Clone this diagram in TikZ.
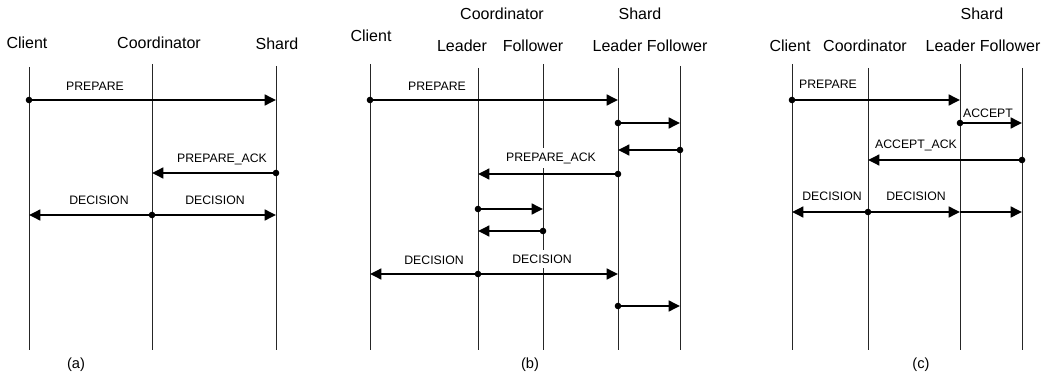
\documentclass[tikz,border=0pt]{standalone}
\usepackage{fontspec}
\setmainfont{Liberation Sans}
\usetikzlibrary{arrows.meta}

\begin{document}
\begin{tikzpicture}[x=0.75pt, y=-0.75pt,
  lifeline/.style={line width=0.7pt, black!85},
  msg/.style={line width=1.8pt, -{Triangle[length=8.5pt,width=8pt]}},
  dotmsg/.style={line width=1.8pt, {Circle[length=4.8pt]}-{Triangle[length=8.5pt,width=8pt]}, shorten <=-2.4pt},
  role/.style={font=\fontsize{12}{14}\selectfont, inner sep=0pt},
  msglabel/.style={font=\fontsize{9.2}{11}\selectfont, inner sep=0pt},
  overline/.style={fill=white, inner ysep=3.5pt},
  caption/.style={font=\fontsize{11}{13}\selectfont, inner sep=0pt}]

\useasboundingbox (0,0) rectangle (1048,378);
\coordinate (bot) at (0,350);

% (a) two-phase commit, plain
\coordinate (aCl) at (29,67);
\coordinate (aCo) at (152,64);
\coordinate (aSh) at (276,66);
\foreach \n in {aCl,aCo,aSh}
    \draw[lifeline] (\n) -- (\n |- bot);

\node[role] (aClT) at (27,43) {Client};
\node[role] (aCoT) at (159,43) {Coordinator};
\node[role] (aShT) at (277,44) {Shard};

\coordinate (aR1) at (0,100);
\coordinate (aR2) at (0,173);
\coordinate (aR3) at (0,215);

\node[msglabel] (aL1) at (95,86) {PREPARE};
\node[msglabel] (aL2) at (222,159) {PREPARE\_ACK};
\node[msglabel] (aL3) at (99,200) {DECISION};
\node[msglabel] (aL4) at (215,200) {DECISION};

\draw[dotmsg] (aCl |- aR1) -- (aSh |- aR1);
\draw[dotmsg] (aSh |- aR2) -- (aCo |- aR2);
\draw[dotmsg] (aCo |- aR3) -- (aCl |- aR3);
\draw[msg] (aCo |- aR3) -- (aSh |- aR3);

\node[caption] (aCap) at (76,365) {(a)};

% (b) replicated coordinator and shard
\coordinate (bCl) at (370,64);
\coordinate (bCL) at (478,68);
\coordinate (bCF) at (543,64);
\coordinate (bSL) at (618,68);
\coordinate (bSF) at (680,66);
\foreach \n in {bCl,bCL,bCF,bSL,bSF}
    \draw[lifeline] (\n) -- (\n |- bot);

\node[role] (bCoT) at (502,14) {Coordinator};
\node[role] (bShT) at (640,14) {Shard};
\node[role] (bClT) at (371,36) {Client};
\node[role] (bCLT) at (462,46) {Leader};
\node[role] (bCFT) at (533,46) {Follower};
\node[role] (bSLT) at (650,46) {Leader Follower};

\coordinate (bR1) at (0,100);
\coordinate (bR2) at (0,123);
\coordinate (bR3) at (0,150);
\coordinate (bR4) at (0,174);
\coordinate (bR5) at (0,209);
\coordinate (bR6) at (0,231);
\coordinate (bR7) at (0,274);
\coordinate (bR8) at (0,306);

\node[msglabel] (bL1) at (437,86) {PREPARE};
\node[msglabel, overline] (bL2) at (551,158) {PREPARE\_ACK};
\node[msglabel] (bL3) at (434,260) {DECISION};
\node[msglabel, overline] (bL4) at (542,259) {DECISION};

\draw[dotmsg] (bCl |- bR1) -- (bSL |- bR1);
\draw[dotmsg] (bSL |- bR2) -- (bSF |- bR2);
\draw[dotmsg] (bSF |- bR3) -- (bSL |- bR3);
\draw[dotmsg] (bSL |- bR4) -- (bCL |- bR4);
\draw[dotmsg] (bCL |- bR5) -- (bCF |- bR5);
\draw[dotmsg] (bCF |- bR6) -- (bCL |- bR6);
\draw[dotmsg] (bCL |- bR7) -- (bCl |- bR7);
\draw[msg] (bCL |- bR7) -- (bSL |- bR7);
\draw[dotmsg] (bSL |- bR8) -- (bSF |- bR8);

\node[caption] (bCap) at (530,365) {(b)};

% (c) replicated shard only
\coordinate (cCl) at (792,64);
\coordinate (cCo) at (868,68);
\coordinate (cSL) at (960,64);
\coordinate (cSF) at (1022,68);
\foreach \n in {cCl,cCo,cSL,cSF}
    \draw[lifeline] (\n) -- (\n |- bot);

\node[role] (cShT) at (982,14) {Shard};
\node[role] (cClT) at (790,46) {Client};
\node[role] (cCoT) at (865,46) {Coordinator};
\node[role] (cSLT) at (983,46) {Leader Follower};

\coordinate (cR1) at (0,100);
\coordinate (cR2) at (0,123);
\coordinate (cR3) at (0,160);
\coordinate (cR4) at (0,212);

\node[msglabel] (cL1) at (828,84) {PREPARE};
\node[msglabel] (cL2) at (988,113) {ACCEPT};
\node[msglabel] (cL3) at (916,145) {ACCEPT\_ACK};
\node[msglabel] (cL4) at (832,196) {DECISION};
\node[msglabel] (cL5) at (916,196) {DECISION};

\draw[dotmsg] (cCl |- cR1) -- (cSL |- cR1);
\draw[dotmsg] (cSL |- cR2) -- (cSF |- cR2);
\draw[dotmsg] (cSF |- cR3) -- (cCo |- cR3);
\draw[dotmsg] (cCo |- cR4) -- (cCl |- cR4);
\draw[msg] (cCo |- cR4) -- (cSL |- cR4);
\draw[msg] (cSL |- cR4) -- (cSF |- cR4);

\node[caption] (cCap) at (921,365) {(c)};
\end{tikzpicture}
\end{document}
